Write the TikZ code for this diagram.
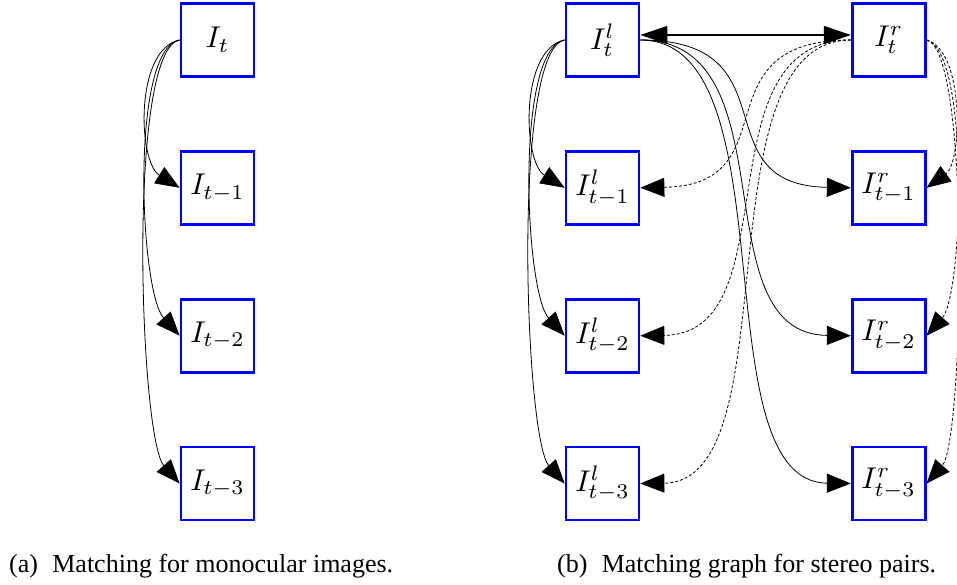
\documentclass[tikz,border=0pt]{standalone}
\usepackage{fontspec}
\newfontfamily\capfont{Liberation Serif}
\usetikzlibrary{arrows.meta}
% box labels: ordinary 10pt math, enlarged
\newcommand\imglabel[1]{\scalebox{3}{\fontsize{10}{12}\selectfont$#1$}}
\begin{document}
\begin{tikzpicture}[x=1pt,y=-1pt,
  imgbox/.style={draw=blue, line width=2.7pt, minimum size=73pt, inner sep=0pt},
  tip/.style={-{Triangle[length=24pt,width=19pt]}},
  solidedge/.style={tip, line width=0.8pt},
  dashededge/.style={tip, line width=0.8pt, dash pattern=on 3pt off 2pt},
  caption/.style={anchor=base west, inner sep=0pt, font=\capfont\fontsize{26}{30}\selectfont}]
\useasboundingbox (0,0) rectangle (957,585);

% monocular sequence
\node[imgbox] (a0) at (217.5,40)    {\imglabel{I_t}};
\node[imgbox] (a1) at (217.5,187.8) {\imglabel{I_{t-1}}};
\node[imgbox] (a2) at (217.5,335.7) {\imglabel{I_{t-2}}};
\node[imgbox] (a3) at (217.5,483.5) {\imglabel{I_{t-3}}};

\draw[solidedge] (a0.west) .. controls +(-45,9) and +(-42,-26) .. (a1.west);
\draw[solidedge] (a0.west) .. controls +(-50,9) and +(-40,-44) .. (a2.west);
\draw[solidedge] (a0.west) .. controls +(-53,9) and +(-40,-45) .. (a3.west);

% stereo sequence: left column
\node[imgbox] (l0) at (602.5,40)    {\imglabel{I^l_t}};
\node[imgbox] (l1) at (602.5,187.8) {\imglabel{I^l_{t-1}}};
\node[imgbox] (l2) at (602.5,335.7) {\imglabel{I^l_{t-2}}};
\node[imgbox] (l3) at (602.5,483.5) {\imglabel{I^l_{t-3}}};

% stereo sequence: right column
\node[imgbox] (r0) at (888.7,40)    {\imglabel{I^r_t}};
\node[imgbox] (r1) at (888.7,187.8) {\imglabel{I^r_{t-1}}};
\node[imgbox] (r2) at (888.7,335.7) {\imglabel{I^r_{t-2}}};
\node[imgbox] (r3) at (888.7,483.5) {\imglabel{I^r_{t-3}}};

% left-left matches
\draw[solidedge] (l0.west) .. controls +(-45,9) and +(-42,-26) .. (l1.west);
\draw[solidedge] (l0.west) .. controls +(-50,9) and +(-40,-44) .. (l2.west);
\draw[solidedge] (l0.west) .. controls +(-53,9) and +(-40,-45) .. (l3.west);

% current stereo pair
\draw[{Triangle[length=27pt,width=18pt]}-{Triangle[length=27pt,width=18pt]}, line width=1.2pt]
  ([yshift=5pt]l0.east) -- ([yshift=5pt]r0.west);

% left-right matches
\draw[solidedge] (l0.east) .. controls +(155,0) and +(-152,-3) .. (r1.west);
\draw[solidedge] (l0.east) .. controls +(152,0) and +(-152,-2) .. (r2.west);
\draw[solidedge] (l0.east) .. controls +(152,0) and +(-152,-2) .. (r3.west);

% right-left matches
\draw[dashededge] (r0.west) .. controls +(-155,0) and +(152,-3) .. (l1.east);
\draw[dashededge] (r0.west) .. controls +(-152,0) and +(152,-2) .. (l2.east);
\draw[dashededge] (r0.west) .. controls +(-152,0) and +(152,-2) .. (l3.east);

% right-right matches
\draw[dashededge] (r0.east) .. controls +(38,10) and +(36,-26) .. (r1.east);
\draw[dashededge] (r0.east) .. controls +(43,10) and +(37,-42) .. (r2.east);
\draw[dashededge] (r0.east) .. controls +(45,10) and +(37,-42) .. (r3.east);

% captions
\node[caption] (capa) at (9,572)   {(a)\hspace{0.55em}Matching for monocular images.};
\node[caption] (capb) at (557,572) {(b)\hspace{0.55em}Matching graph for stereo pairs.};
\end{tikzpicture}
\end{document}
